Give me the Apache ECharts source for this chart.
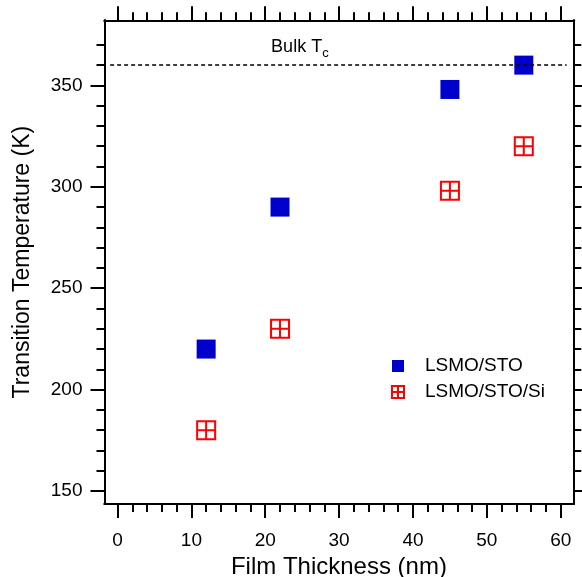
<!DOCTYPE html>
<html>
<head>
<meta charset="utf-8">
<script src="https://cdn.jsdelivr.net/npm/echarts@6/dist/echarts.min.js"></script>
<style>
  html, body { margin: 0; padding: 0; background: #fff; }
  #chart { width: 582px; height: 577px; }
</style>
</head>
<body>
<div id="chart"></div>
<script>
// film thickness (nm) and transition temperatures (K)
const thickness = [12, 22, 45, 55];
const tcSto = [220, 290, 348, 360];
const tcStoSi = [180, 230, 298, 320];
const bulkTc = 360;
const bulkLineX = [-1, 60.8];

const xMajorTicks = [0, 10, 20, 30, 40, 50, 60];
const xMinorTicks = [2, 4, 6, 8, 12, 14, 16, 18, 22, 24, 26, 28, 32, 34, 36, 38, 42, 44, 46, 48, 52, 54, 56, 58];
const yMajorTicks = [150, 200, 250, 300, 350];
const yMinorTicks = [160, 170, 180, 190, 210, 220, 230, 240, 260, 270, 280, 290, 310, 320, 330, 340, 360, 370];

const font = 'Liberation Sans, Arial, Helvetica, sans-serif';
const crossSquare = 'path://M0,0H10V10H0ZM5,0V10M0,5H10';

const chart = echarts.init(document.getElementById('chart'));

// one grid for the major ticks (and data), a second identical one for the minor ticks
const gridBox = {left: 104.5, right: 8.7, top: 20.3, bottom: 73, containLabel: false, outerBoundsMode: 'none'};

function makeAxis(gridIndex, position, ticks, len, opts) {
    const horizontal = position === 'bottom' || position === 'top';
    return Object.assign({
        type: 'value',
        gridIndex: gridIndex,
        position: position,
        min: horizontal ? -1.76 : 143.6,
        max: horizontal ? 61.7 : 382.1,
        axisLine: {show: true, onZero: false, lineStyle: {color: '#000', width: 2}},
        axisTick: {show: true, inside: false, length: len, customValues: ticks,
            lineStyle: {color: '#000', width: 2}},
        axisLabel: {show: false},
        splitLine: {show: false}
    }, opts || {});
}

const labelStyle = {fontFamily: font, fontSize: 19, color: '#000'};

const option = {
    animation: false,
    grid: [Object.assign({}, gridBox), Object.assign({}, gridBox)],
    xAxis: [
        makeAxis(0, 'bottom', xMajorTicks, 14, {
            name: 'Film Thickness (nm)',
            nameLocation: 'middle',
            nameGap: 44,
            nameTextStyle: {fontFamily: font, fontSize: 24, color: '#000'},
            axisLabel: Object.assign({show: true, margin: 27, customValues: xMajorTicks}, labelStyle)
        }),
        makeAxis(0, 'top', xMajorTicks, 14),
        makeAxis(1, 'bottom', xMinorTicks, 8),
        makeAxis(1, 'top', xMinorTicks, 8)
    ],
    yAxis: [
        makeAxis(0, 'left', yMajorTicks, 14, {
            name: 'Transition Temperature (K)',
            nameLocation: 'middle',
            nameGap: 70,
            nameTextStyle: {fontFamily: font, fontSize: 23, color: '#000'},
            axisLabel: Object.assign({show: true, margin: 22, customValues: yMajorTicks}, labelStyle)
        }),
        makeAxis(0, 'right', yMajorTicks, 14),
        makeAxis(1, 'left', yMinorTicks, 8),
        makeAxis(1, 'right', yMinorTicks, 8)
    ],
    legend: {
        orient: 'vertical',
        left: 386,
        top: 351.5,
        itemWidth: 12,
        itemHeight: 12,
        itemGap: 7,
        textStyle: {fontFamily: font, fontSize: 19, color: '#000', padding: [0, 0, 0, 16]},
        data: [
            {name: 'LSMO/STO', icon: 'rect'},
            {name: 'LSMO/STO/Si', icon: crossSquare}
        ]
    },
    series: [
        {
            name: 'LSMO/STO',
            type: 'scatter',
            xAxisIndex: 0,
            yAxisIndex: 0,
            symbol: 'rect',
            symbolSize: 19,
            itemStyle: {color: '#0000cc', opacity: 1},
            data: thickness.map((t, i) => [t, tcSto[i]]),
            z: 3,
            markLine: {
                silent: true,
                symbol: 'none',
                lineStyle: {color: '#000', type: [4, 3], width: 1.5},
                label: {
                    show: true,
                    position: 'insideStartTop',
                    distance: [161, 9],
                    formatter: '{a|Bulk T}{b|c}',
                    rich: {
                        a: {fontFamily: font, fontSize: 18, color: '#000', lineHeight: 18, verticalAlign: 'top'},
                        b: {fontFamily: font, fontSize: 13, color: '#000', lineHeight: 13, verticalAlign: 'top', padding: [9, 0, 0, 0]}
                    }
                },
                data: [[{coord: [bulkLineX[0], bulkTc]}, {coord: [bulkLineX[1], bulkTc]}]]
            }
        },
        {
            name: 'LSMO/STO/Si',
            type: 'scatter',
            xAxisIndex: 0,
            yAxisIndex: 0,
            symbol: crossSquare,
            symbolSize: 18,
            itemStyle: {color: 'rgba(255,255,255,0)', borderColor: '#ff0000', borderWidth: 2, opacity: 1},
            data: thickness.map((t, i) => [t, tcStoSi[i]]),
            z: 3
        }
    ]
};

chart.setOption(option);
</script>
</body>
</html>
